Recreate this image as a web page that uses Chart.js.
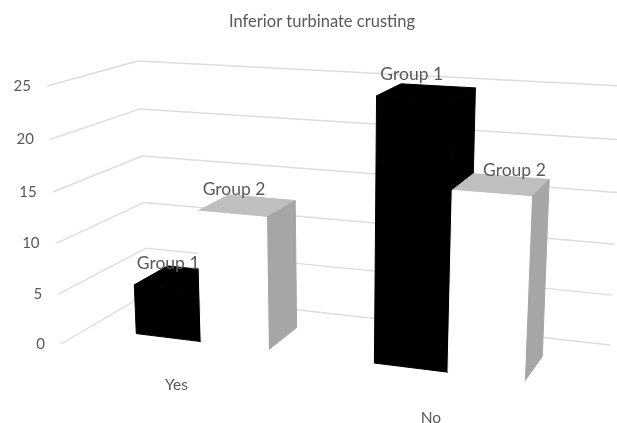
<!DOCTYPE html>
<html>
<head>
<meta charset="utf-8">
<title>Inferior turbinate crusting</title>
<script src="https://cdn.jsdelivr.net/npm/chart.js@4/dist/chart.umd.min.js"></script>
<style>
  html, body { margin: 0; padding: 0; background: #fff; }
  canvas { display: block; }
</style>
</head>
<body>
<canvas id="crustingChart" width="617" height="423"></canvas>
<script>
// Values
const categories = ['Yes', 'No'];
const seriesNames = ['Group 1', 'Group 2'];
const group1Values = [5, 25];
const group2Values = [13, 17];
const valueTicks = [0, 5, 10, 15, 20, 25];

// Screen position of the 8 corners of the 3D box, named by u, v, d (0 or 1)
const boxCorners = {
  '000': [61, 344],  '100': [571.5, 410],
  '010': [47, 86],   '110': [586.5, 120],
  '001': [148, 293], '101': [610, 345],
  '011': [138, 61],  '111': [623, 86]
};
const barDepth = [0.3, 0.7];
const labelFont = '17.5px Lato';
const textColor = '#595959';
// Where each data label sits relative to the middle of its bar top
const labelShift = [[[-15, -15], [-13, -16]], [[-15, -17], [13, -14]]];

// Perspective: far corners weigh more, so near parts get more screen space
function project(u, v, d) {
  let x = 0, y = 0, sum = 0;
  Object.keys(boxCorners).forEach(key => {
    const cu = +key[0], cv = +key[1], cd = +key[2];
    const blend = (cu ? u : 1 - u) * (cv ? v : 1 - v) * (cd ? d : 1 - d);
    const weight = blend * (1 + 0.14 * (1 - cu) - 0.05 * cv + 0.11 * cd);
    x += weight * boxCorners[key][0];
    y += weight * boxCorners[key][1];
    sum += weight;
  });
  return [x / sum, y / sum];
}

function fillFace(ctx, points, color) {
  ctx.beginPath();
  points.forEach((p, i) => (i ? ctx.lineTo(p[0], p[1]) : ctx.moveTo(p[0], p[1])));
  ctx.closePath();
  ctx.fillStyle = color;
  ctx.fill();
  // hides the hairline seam between faces of the same colour
  ctx.strokeStyle = color;
  ctx.lineWidth = 1;
  ctx.lineJoin = 'round';
  ctx.stroke();
}

const bars3d = {
  id: 'bars3d',
  beforeDatasetsDraw(chart) {
    const ctx = chart.ctx;
    const area = chart.chartArea;
    const xScale = chart.scales.x;
    const yScale = chart.scales.y;
    const toU = px => (px - area.left) / (area.right - area.left);
    const toV = px => (area.bottom - px) / (area.bottom - area.top);

    ctx.save();

    // back wall and side wall grid lines
    ctx.strokeStyle = '#dcdcdc';
    ctx.lineWidth = 1.4;
    yScale.ticks.forEach(tick => {
      const v = toV(yScale.getPixelForValue(tick.value));
      const a = project(0, v, 0), b = project(0, v, 1), c = project(1, v, 1);
      ctx.beginPath();
      ctx.moveTo(a[0], a[1]);
      ctx.lineTo(b[0], b[1]);
      ctx.lineTo(c[0], c[1]);
      ctx.stroke();
    });

    // bars, left to right
    const [d0, d1] = barDepth;
    const labels = [];
    categories.forEach((cat, index) => {
      chart.data.datasets.forEach((ds, dsIndex) => {
        const el = chart.getDatasetMeta(dsIndex).data[index];
        const u0 = toU(el.x - el.width / 2), u1 = toU(el.x + el.width / 2);
        const vTop = toV(el.y), vBase = toV(el.base);
        fillFace(ctx, [project(u0, vTop, d0), project(u0, vTop, d1), project(u1, vTop, d1), project(u1, vTop, d0)], ds.topColor);
        fillFace(ctx, [project(u1, vBase, d0), project(u1, vBase, d1), project(u1, vTop, d1), project(u1, vTop, d0)], ds.sideColor);
        fillFace(ctx, [project(u0, vBase, d0), project(u1, vBase, d0), project(u1, vTop, d0), project(u0, vTop, d0)], ds.backgroundColor);
        const mid = project((u0 + u1) / 2, vTop, (d0 + d1) / 2);
        const shift = labelShift[index][dsIndex];
        labels.push([ds.label, mid[0] + shift[0], mid[1] + shift[1]]);
      });
    });

    ctx.fillStyle = textColor;
    ctx.textBaseline = 'middle';

    // data labels
    ctx.font = labelFont;
    ctx.textAlign = 'center';
    labels.forEach(l => ctx.fillText(l[0], l[1], l[2]));

    // category labels under the floor
    ctx.font = '15.5px Lato';
    categories.forEach((cat, i) => {
      const p = project(toU(xScale.getPixelForValue(i)), 0, 0);
      ctx.fillText(cat, p[0], p[1] + 26);
    });

    // value labels follow the slanted front edge
    ctx.font = '15px Lato';
    ctx.textAlign = 'right';
    yScale.ticks.forEach(tick => {
      const p = project(0, toV(yScale.getPixelForValue(tick.value)), 0);
      ctx.fillText(tick.label, p[0] - 16, p[1]);
    });

    ctx.restore();
    return false; // the flat bars are not drawn
  }
};

new Chart(document.getElementById('crustingChart').getContext('2d'), {
  type: 'bar',
  data: {
    labels: categories,
    datasets: [
      { label: seriesNames[0], data: group1Values, backgroundColor: '#000000', topColor: '#000000', sideColor: '#000000' },
      { label: seriesNames[1], data: group2Values, backgroundColor: '#ffffff', topColor: '#bfbfbf', sideColor: '#a6a6a6' }
    ]
  },
  options: {
    responsive: false,
    animation: false,
    layout: { padding: { left: 27, top: 12 } },
    datasets: { bar: { categoryPercentage: 0.57, barPercentage: 1 } },
    plugins: {
      legend: { display: false },
      tooltip: { enabled: false },
      title: {
        display: true,
        text: 'Inferior turbinate crusting',
        color: textColor,
        font: { family: 'Lato', size: 16.5, weight: 'normal' },
        padding: { top: 0, bottom: 10 }
      }
    },
    scales: {
      x: { display: false },
      y: {
        display: false,
        min: valueTicks[0],
        max: valueTicks[valueTicks.length - 1],
        ticks: { stepSize: valueTicks[1] - valueTicks[0] }
      }
    }
  },
  plugins: [bars3d]
});
</script>
</body>
</html>
